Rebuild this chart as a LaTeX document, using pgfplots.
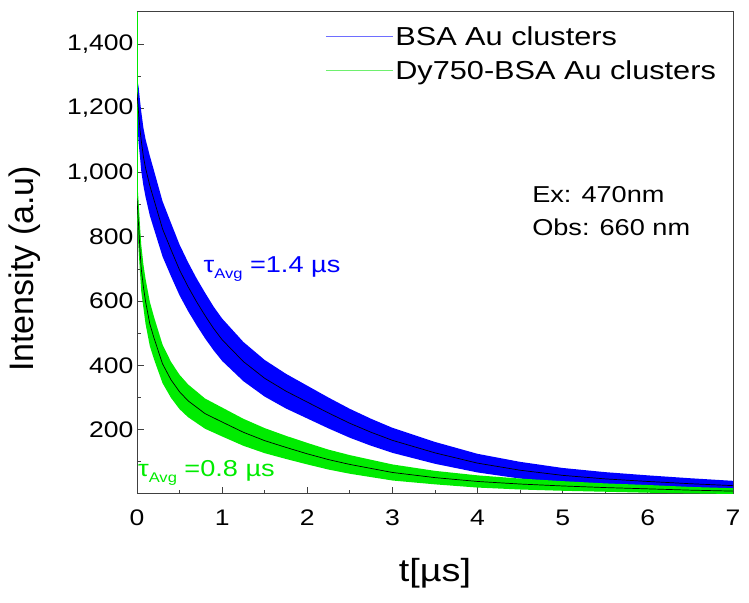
\documentclass[border=0pt]{standalone}
\usepackage{fontspec}
\setmainfont{Liberation Sans}[FakeStretch=1.18]
\newfontfamily\plainsans{Liberation Sans}
\usepackage{pgfplots}
\pgfplotsset{compat=1.18}
\usepackage{pgfplotstable}
\usepgfplotslibrary{fillbetween}

\definecolor{bsablue}{RGB}{0,0,255}
\definecolor{dygreen}{RGB}{0,235,0}
\definecolor{legblue}{RGB}{110,110,255}
\definecolor{leggreen}{RGB}{110,240,110}

% t, fitted curve, upper and lower edge of the noisy band
\pgfplotstableread{
t     fit   up    low
0     1250  1285  1205
0.01  1215  1280  1130
0.02  1180  1265  1090
0.035 1135  1225  1050
0.05  1100  1190  1005
0.075 1050  1140  960
0.1   1015  1105  925
0.15  960   1053  867
0.2   915   1006  824
0.3   825   911   739
0.4   760   843   677
0.5   697   776   618
0.6   645   721   569
0.7   598   671   525
0.8   555   626   484
0.9   515   583   447
1.0   480   546   414
1.25  412   473   351
1.5   360   417   303
1.75  320   374   266
2.0   286   337   235
2.25  252   300   204
2.5   220   265   175
2.75  192   234   150
3.0   167   206   128
3.5   128   162   94
4.0   96    125   67
4.5   74    100   48
5.0   58    81    35
5.5   47    68    26
6.0   39    58    20
6.5   32    49    15
7.0   26    41    11
}\bsa

\pgfplotstableread{
t     fit   up    low
0     920   960   870
0.01  870   945   800
0.02  830   905   755
0.035 760   835   690
0.05  700   775   630
0.075 645   715   580
0.1   600   670   530
0.15  530   599   461
0.2   485   551   419
0.3   405   465   345
0.4   355   411   299
0.5   318   371   264
0.6   290   341   239
0.8   250   297   203
1.0   224   269   179
1.25  192   234   150
1.5   166   205   127
1.75  145   181   109
2.0   125   159   92
2.25  107   138   76
2.5   92    121   63
3.0   67    92    42
3.5   51    72    30
4.0   39    58    20
4.5   31    48    14
5.0   25    40    10
5.5   20    33    7
6.0   16    28    4
6.5   12    22    2
7.0   9     18    0
}\dy

\begin{document}
\begin{tikzpicture}
\begin{axis}[
    scale only axis, width=596pt, height=482pt,
    xmin=0, xmax=7, ymin=0, ymax=1500,
    xtick={0,...,7}, minor x tick num=1,
    ytick={200,400,...,1400}, minor ytick={100,300,...,1300},
    tick align=inside, xtick pos=bottom, ytick pos=left,
    major tick length=7pt, minor tick length=4pt,
    axis line style={black!75, line width=1pt},
    every tick/.style={black!75, line width=1pt},
    tick label style={font=\fontsize{22.5}{22.5}\selectfont},
    xticklabel style={yshift=-12pt},
    /pgf/number format/assume math mode=true,
    /pgf/number format/1000 sep={,},
    xlabel={t[µs]}, ylabel={Intensity (a.u)},
    xlabel style={font=\fontsize{32}{32}\selectfont,
        at={([yshift=-79pt]rel axis cs:0.5,0)}, anchor=center},
    ylabel style={font=\plainsans\fontsize{34}{34}\selectfont,
        at={([xshift=-112pt]rel axis cs:0,0.467)}, anchor=center},
    legend style={at={(rel axis cs:0.975,0.975)}, anchor=north east, draw=none, fill=none,
        font=\fontsize{26}{26}\selectfont, row sep=10pt, inner sep=0pt, cells={anchor=west}},
    legend image code/.code={\draw[#1] (0pt,0pt) -- (67pt,0pt);},
]
\addlegendimage{draw=legblue, line width=1pt}
\addlegendentry{BSA Au clusters}
\addlegendimage{draw=leggreen, line width=1pt}
\addlegendentry{Dy750-BSA Au clusters}

\addplot[name path=bu, draw=none, forget plot] table[x=t, y=up] {\bsa};
\addplot[name path=bl, draw=none, forget plot] table[x=t, y=low] {\bsa};
\addplot[bsablue, forget plot] fill between[of=bu and bl];

\addplot[name path=gu, draw=none, forget plot] table[x=t, y=up] {\dy};
\addplot[name path=gl, draw=none, forget plot] table[x=t, y=low] {\dy};
\addplot[dygreen, forget plot] fill between[of=gu and gl];
\addplot[dygreen, line width=1pt, forget plot] coordinates {(0,900) (0,1500)};

\addplot[black, line width=0.7pt, forget plot] table[x=t, y=fit] {\bsa};
\addplot[black, line width=0.7pt, forget plot] table[x=t, y=fit] {\dy};

\node[anchor=base west, inner sep=0pt, text=bsablue, font=\fontsize{23}{23}\selectfont]
    at (axis cs:0.78,688) {τ\raisebox{-6pt}{\fontsize{14}{14}\selectfont Avg} =1.4 µs};
\node[anchor=base west, inner sep=0pt, text=dygreen, font=\fontsize{23}{23}\selectfont]
    at (axis cs:0.01,56) {τ\raisebox{-6pt}{\fontsize{14}{14}\selectfont Avg} =0.8 µs};
\node[anchor=base west, inner sep=0pt, font=\fontsize{23}{23}\selectfont]
    at (axis cs:4.64,908) {Ex: 470nm};
\node[anchor=base west, inner sep=0pt, font=\fontsize{23}{23}\selectfont]
    at (axis cs:4.64,803) {Obs: 660 nm};
\end{axis}
\pgfresetboundingbox
\path ([xshift=-137pt,yshift=-108pt]current axis.south west)
    rectangle ([xshift=16pt,yshift=12pt]current axis.north east);
\end{tikzpicture}
\end{document}
